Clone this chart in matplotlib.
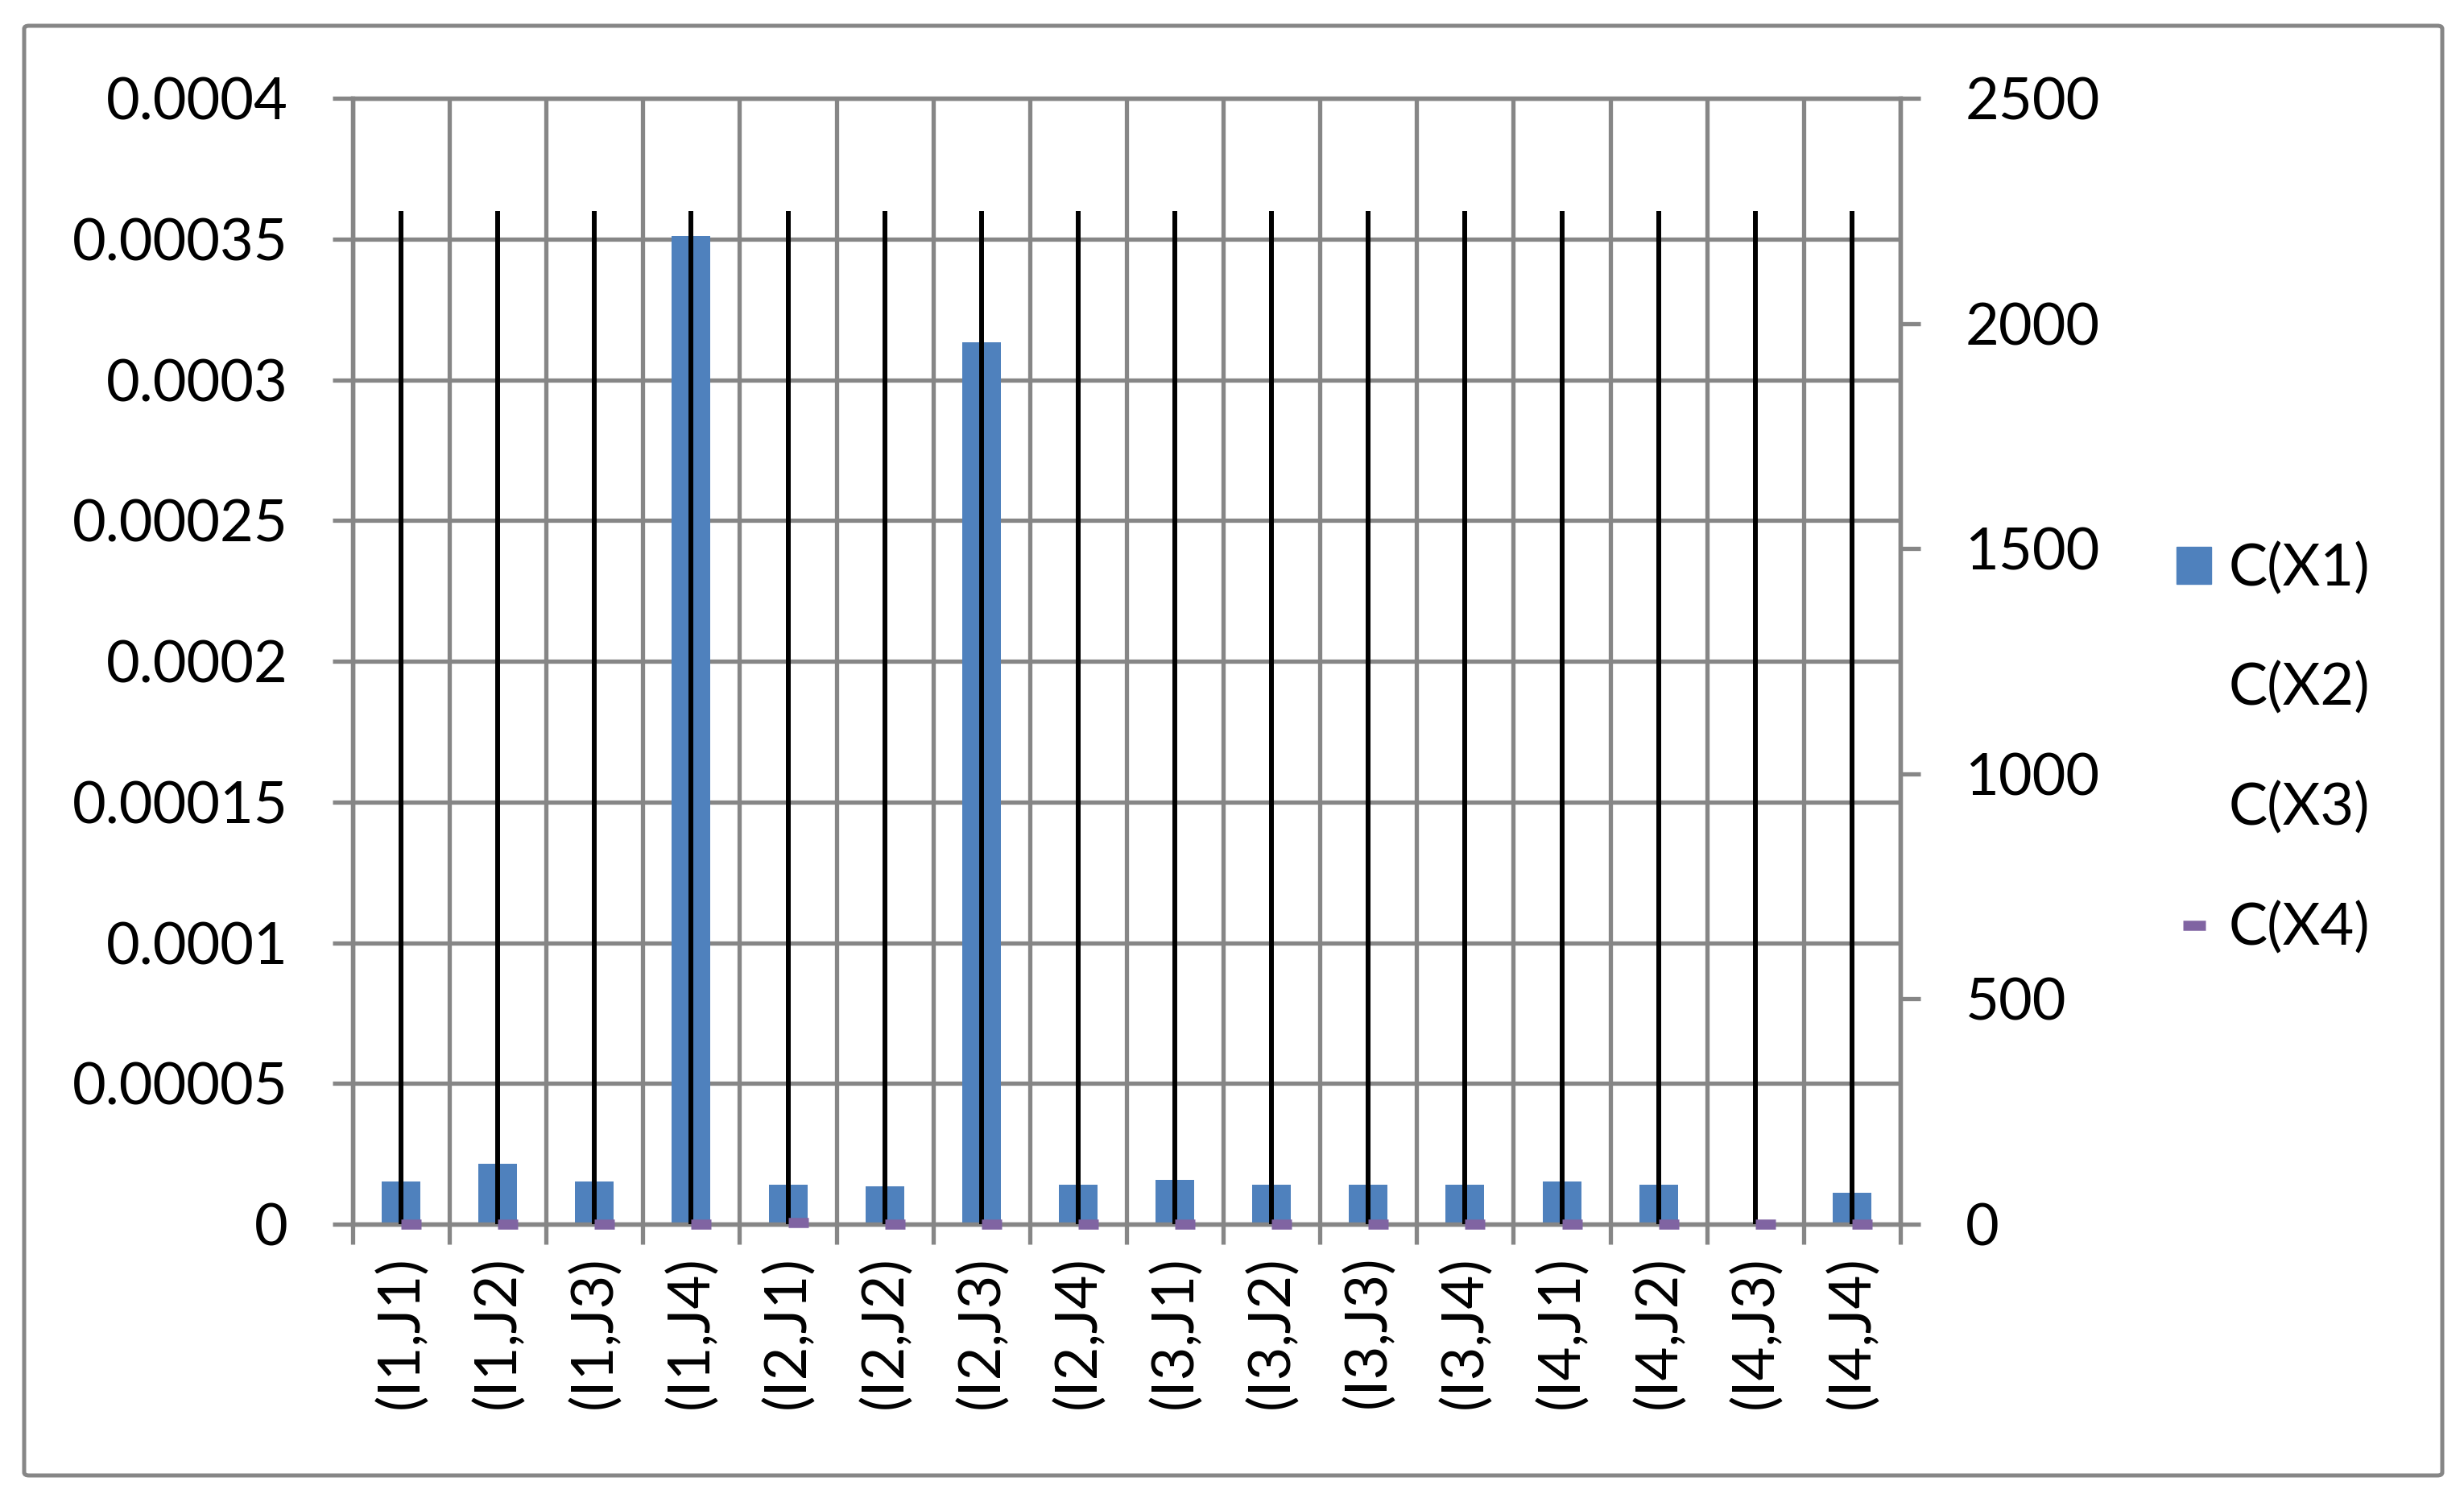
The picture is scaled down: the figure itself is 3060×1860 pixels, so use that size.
import matplotlib
matplotlib.use('Agg')
import matplotlib.pyplot as plt
import matplotlib.patches as mpatches
from matplotlib.lines import Line2D
import numpy as np

plt.rcParams['font.family'] = ['Lato', 'DejaVu Sans']

categories = ['(I1,J1)', '(I1,J2)', '(I1,J3)', '(I1,J4)',
              '(I2,J1)', '(I2,J2)', '(I2,J3)', '(I2,J4)',
              '(I3,J1)', '(I3,J2)', '(I3,J3)', '(I3,J4)',
              '(I4,J1)', '(I4,J2)', '(I4,J3)', '(I4,J4)']
# C(X1) on the left axis
cx1 = [0.0000152, 0.0000216, 0.0000152, 0.000351,
       0.0000141, 0.0000135, 0.0003134, 0.0000141,
       0.0000158, 0.0000141, 0.0000141, 0.0000141,
       0.0000152, 0.0000141, 0.0, 0.0000112]
# C(X2), C(X3), C(X4) on the right axis
cx2 = [2250, 2250, 2250, 2250, 2250, 2250, 2250, 2250,
       2250, 2250, 2250, 2250, 2250, 2250, 2250, 2250]
cx3 = [0, 0, 0, 0, 0, 0, 0, 0, 0, 0, 0, 0, 0, 0, 0, 0]
cx4 = [0, 0, 0, 0, 4, 0, 0, 0, 0, 0, 0, 0, 0, 0, 0, 0]
left_ticks = [0, 0.00005, 0.0001, 0.00015, 0.0002, 0.00025, 0.0003, 0.00035, 0.0004]
left_labels = ['0', '0.00005', '0.0001', '0.00015', '0.0002', '0.00025', '0.0003', '0.00035', '0.0004']
right_ticks = [0, 500, 1000, 1500, 2000, 2500]

grey = '#868686'
blue = '#4F81BD'
purple = '#8064A2'
fs = 52

fig = plt.figure(figsize=(30.6, 18.6), dpi=100)
ax = fig.add_axes([438 / 3060, 1 - 1520 / 1860, (2360 - 438) / 3060, (1520 - 122) / 1860])
x = np.arange(len(categories))

ax.bar(x, cx1, width=0.4, color=blue, zorder=2)
ax.set_xlim(-0.5, len(categories) - 0.5)
ax.set_ylim(0, 0.0004)
ax.set_yticks(left_ticks)
ax.set_yticklabels(left_labels)
ax.set_axisbelow(True)
ax.grid(axis='y', color=grey, linewidth=3.8)
ax.set_xticks(x)
ax.set_xticklabels(categories, rotation=90)
ax.set_xticks(np.arange(-0.5, len(categories)), minor=True)
ax.grid(axis='x', which='minor', color=grey, linewidth=3.8)
ax.tick_params(axis='x', which='major', length=0, pad=28, labelsize=fs)
ax.tick_params(axis='x', which='minor', length=18, width=3.8, color=grey, direction='out')
ax.tick_params(axis='y', length=18, width=3.8, color=grey, pad=40, labelsize=fs)
for sp in ax.spines.values():
    sp.set_color(grey)
    sp.set_linewidth(3.8)

ax2 = ax.twinx()
ax2.set_ylim(0, 2500)
ax2.set_yticks(right_ticks)
ax2.tick_params(axis='y', length=18, width=3.8, color=grey, pad=40, labelsize=fs)
for sp in ax2.spines.values():
    sp.set_color(grey)
    sp.set_linewidth(3.8)
ax2.vlines(x, cx3, cx2, color='black', linewidth=4.3, zorder=3)
ax2.plot(x + 0.1, cx4, linestyle='none', marker='_', markersize=18, markeredgewidth=9,
         color=purple, zorder=4, clip_on=False)

handles = [mpatches.Patch(color=blue),
           Line2D([], [], linestyle='none'),
           Line2D([], [], linestyle='none'),
           Line2D([], [], linestyle='none', marker='_', markersize=20, markeredgewidth=9, color=purple)]
fig.legend(handles, ['C(X1)', 'C(X2)', 'C(X3)', 'C(X4)'], loc='center left',
           bbox_to_anchor=(2703 / 3060, 0.5005), frameon=False, fontsize=fs,
           handlelength=0.6, handleheight=0.6, handletextpad=0.3, labelspacing=1.14,
           borderpad=0, borderaxespad=0)

border = mpatches.FancyBboxPatch((30 / 3060, 1 - 1832 / 1860), 3003 / 3060, 1800 / 1860,
                                 boxstyle='round,pad=0,rounding_size=0.002',
                                 transform=fig.transFigure, fill=False,
                                 edgecolor=grey, linewidth=3.6)
fig.patches.append(border)

fig.savefig('out.png', dpi=100)
